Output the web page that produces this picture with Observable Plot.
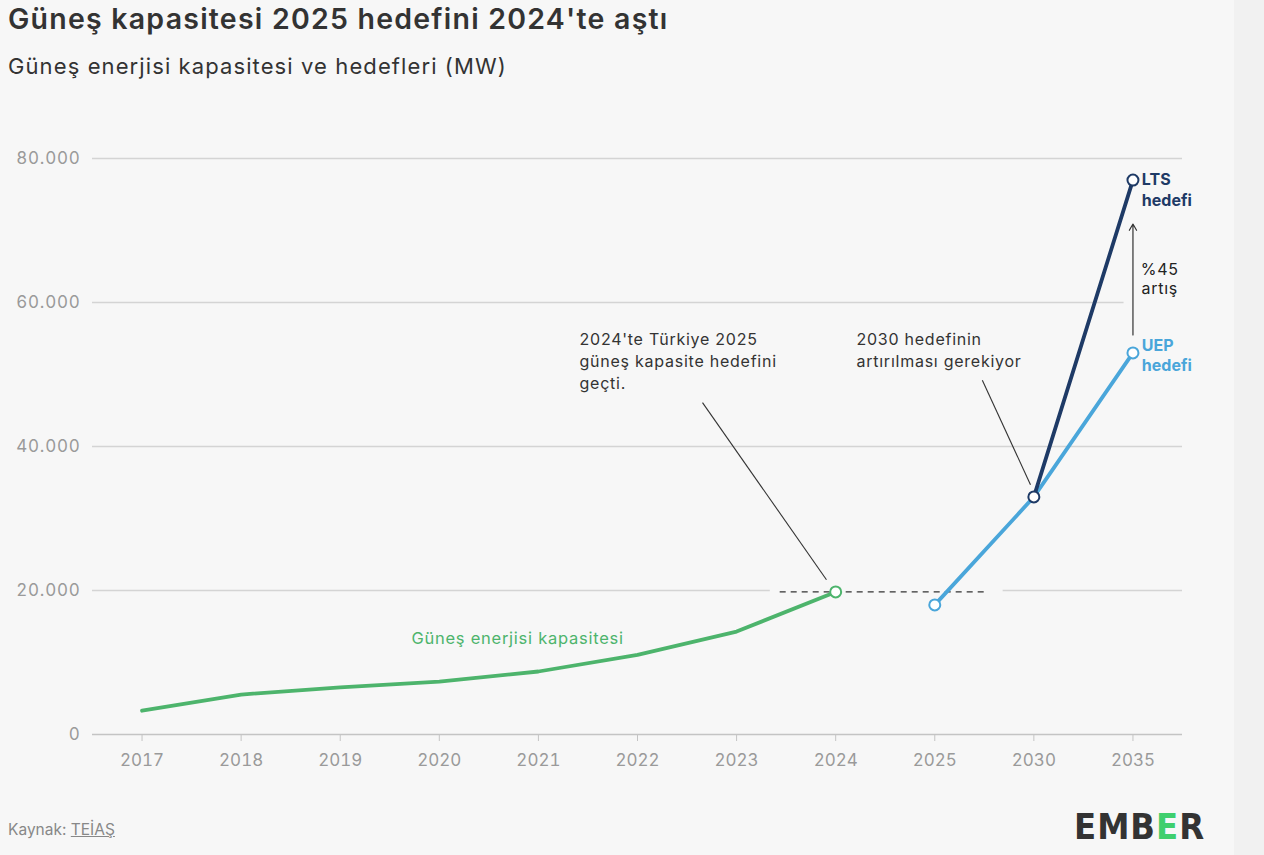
<!DOCTYPE html>
<html lang="tr">
<head>
<meta charset="utf-8">
<script src="https://cdn.jsdelivr.net/npm/d3@7"></script>
<script src="https://cdn.jsdelivr.net/npm/@observablehq/plot@0.6"></script>
<style>
  html, body { margin: 0; padding: 0; }
  body { width: 1264px; height: 855px; background: #f7f7f7; position: relative; overflow: hidden; font-family: Inter, "Noto Sans", sans-serif; }
  #strip { position: absolute; left: 1234px; top: 0; width: 30px; height: 855px; background: #f1f1f1; }
  #title { position: absolute; left: 8px; top: 1px; font-size: 28.5px; font-weight: 600; color: #333; letter-spacing: 1.23px; white-space: nowrap; }
  #subtitle { position: absolute; left: 8px; top: 53px; font-size: 22px; color: #333; letter-spacing: 1.1px; white-space: nowrap; }
  #chart { position: absolute; left: 0; top: 100px; }
  #caption { position: absolute; left: 8px; top: 820px; font-size: 15.5px; color: #888; }
  #caption u { text-decoration: underline; }
  #logo { position: absolute; left: 1074px; top: 806px; font-family: "Liberation Sans Narrow", "DejaVu Sans Condensed", sans-serif; font-weight: 700; font-size: 36px; color: #333; letter-spacing: 1px; }
  #logo span { color: #3fcf6e; }
  .wide text { letter-spacing: 0.75px; }
</style>
</head>
<body>
<div id="strip"></div>
<div id="title">Güneş kapasitesi 2025 hedefini 2024'te aştı</div>
<div id="subtitle">Güneş enerjisi kapasitesi ve hedefleri (MW)</div>
<div id="chart"></div>
<div id="caption">Kaynak: <u>TEİAŞ</u></div>
<div id="logo">EMB<span>E</span>R</div>
<script>
// ---- data ----
const years = ["2017","2018","2019","2020","2021","2022","2023","2024","2025","2030","2035"];
const capacityYears = ["2017","2018","2019","2020","2021","2022","2023","2024"];
const capacity = [3300, 5550, 6550, 7350, 8750, 11050, 14300, 19800];
const uepYears = ["2025","2030","2035"];
const uep = [18000, 33000, 53000];
const ltsYears = ["2030","2035"];
const lts = [33000, 77000];
const yTicks = [0, 20000, 40000, 60000, 80000];

const green = "#4db46c", blue = "#4aa6da", navy = "#1e3a66";
const idx = y => years.indexOf(y);
const capData = capacityYears.map((y, i) => ({x: idx(y), v: capacity[i]}));
const uepData = uepYears.map((y, i) => ({x: idx(y), v: uep[i]}));
const ltsData = ltsYears.map((y, i) => ({x: idx(y), v: lts[i]}));

const trFmt = d3.formatLocale({decimal: ",", thousands: ".", grouping: [3], currency: ["", ""]}).format(",");

// grid segments (gridline at 20.000 is broken around the dashed reference line, 60.000 stops before the arrow)
const grid = [
  {y: 80000, x1: -0.5, x2: 10.5},
  {y: 60000, x1: -0.5, x2: 9.91},
  {y: 40000, x1: -0.5, x2: 10.5},
  {y: 20000, x1: -0.5, x2: 6.34},
  {y: 20000, x1: 8.69, x2: 10.5}
];

const notes = [
  {x: 4.415, y: 56300, text: "2024'te Türkiye 2025\ngüneş kapasite hedefini\ngeçti."},
  {x: 7.21, y: 56300, text: "2030 hedefinin\nartırılması gerekiyor"}
];
const leaders = [
  {x1: 5.656, y1: 46100, x2: 6.907, y2: 21500},
  {x1: 8.48, y1: 49200, x2: 8.966, y2: 34700}
];

const chart = Plot.plot({
  width: 1264,
  height: 684,
  marginLeft: 92,
  marginRight: 82,
  marginTop: 58,
  marginBottom: 50,
  style: {background: "transparent", fontFamily: "Inter, 'Noto Sans', sans-serif", fontSize: "16px", color: "#333", overflow: "visible"},
  x: {type: "linear", domain: [-0.5, 10.5], axis: null},
  y: {domain: [0, 80000], axis: null},
  marks: [
    Plot.ruleY(grid, {y: "y", x1: "x1", x2: "x2", stroke: "#d4d4d4", strokeWidth: 1.3}),
    Plot.ruleY([0], {stroke: "#c4c4c4", strokeWidth: 1.5}),
    Plot.axisY(yTicks, {tickSize: 0, tickPadding: 12, tickFormat: trFmt, fontSize: 17, fill: "#9a9a9a", label: null, className: "wide"}),
    Plot.axisX(d3.range(years.length), {tickSize: 7, tickPadding: 12, tickFormat: i => years[i], fontSize: 17, fill: "#9a9a9a", stroke: "#c4c4c4", label: null}),
    // dashed reference line at the 2024 level
    Plot.ruleY([capacity[capacity.length - 1]], {x1: 6.44, x2: 8.54, stroke: "#333", strokeWidth: 1.3, strokeDasharray: "6,5"}),
    // leader lines
    Plot.link(leaders, {x1: "x1", y1: "y1", x2: "x2", y2: "y2", stroke: "#333", strokeWidth: 1.1}),
    // arrow between targets
    Plot.arrow([{x: 10, y1: 55500, y2: 70900}], {x1: "x", x2: "x", y1: "y1", y2: "y2", stroke: "#333", strokeWidth: 1.2, headLength: 9}),
    Plot.text([{x: 10.27, y: 63300}], {x: "x", y: "y", text: () => "%45\nartış", textAnchor: "middle", lineAnchor: "middle", lineHeight: 1.2, fontSize: 16, fill: "#222", className: "wide"}),
    // lines
    Plot.line(capData, {x: "x", y: "v", stroke: green, strokeWidth: 3.8}),
    Plot.line(uepData, {x: "x", y: "v", stroke: blue, strokeWidth: 3.8}),
    Plot.line(ltsData, {x: "x", y: "v", stroke: navy, strokeWidth: 3.8}),
    // markers
    Plot.dot([capData[capData.length - 1]], {x: "x", y: "v", r: 5.5, fill: "white", stroke: green, strokeWidth: 2}),
    Plot.dot([uepData[0], uepData[2]], {x: "x", y: "v", r: 5.5, fill: "white", stroke: blue, strokeWidth: 2}),
    Plot.dot(ltsData, {x: "x", y: "v", r: 5.5, fill: "white", stroke: navy, strokeWidth: 2}),
    // labels
    Plot.text([{x: 3.79, y: 13300}], {x: "x", y: "y", text: () => "Güneş enerjisi kapasitesi", textAnchor: "middle", fontSize: 16.5, fill: green, className: "wide"}),
    Plot.text([{x: 10.09, y: 75800}], {x: "x", y: "y", text: () => "LTS\nhedefi", textAnchor: "start", lineAnchor: "middle", lineHeight: 1.3, fontSize: 16, fontWeight: 700, fill: navy}),
    Plot.text([{x: 10.09, y: 52800}], {x: "x", y: "y", text: () => "UEP\nhedefi", textAnchor: "start", lineAnchor: "middle", lineHeight: 1.3, fontSize: 16, fontWeight: 700, fill: blue}),
    Plot.text(notes, {x: "x", y: "y", text: "text", textAnchor: "start", lineAnchor: "top", lineHeight: 1.375, fontSize: 16, fill: "#333", className: "wide"})
  ]
});
document.getElementById("chart").appendChild(chart);
</script>
</body>
</html>
